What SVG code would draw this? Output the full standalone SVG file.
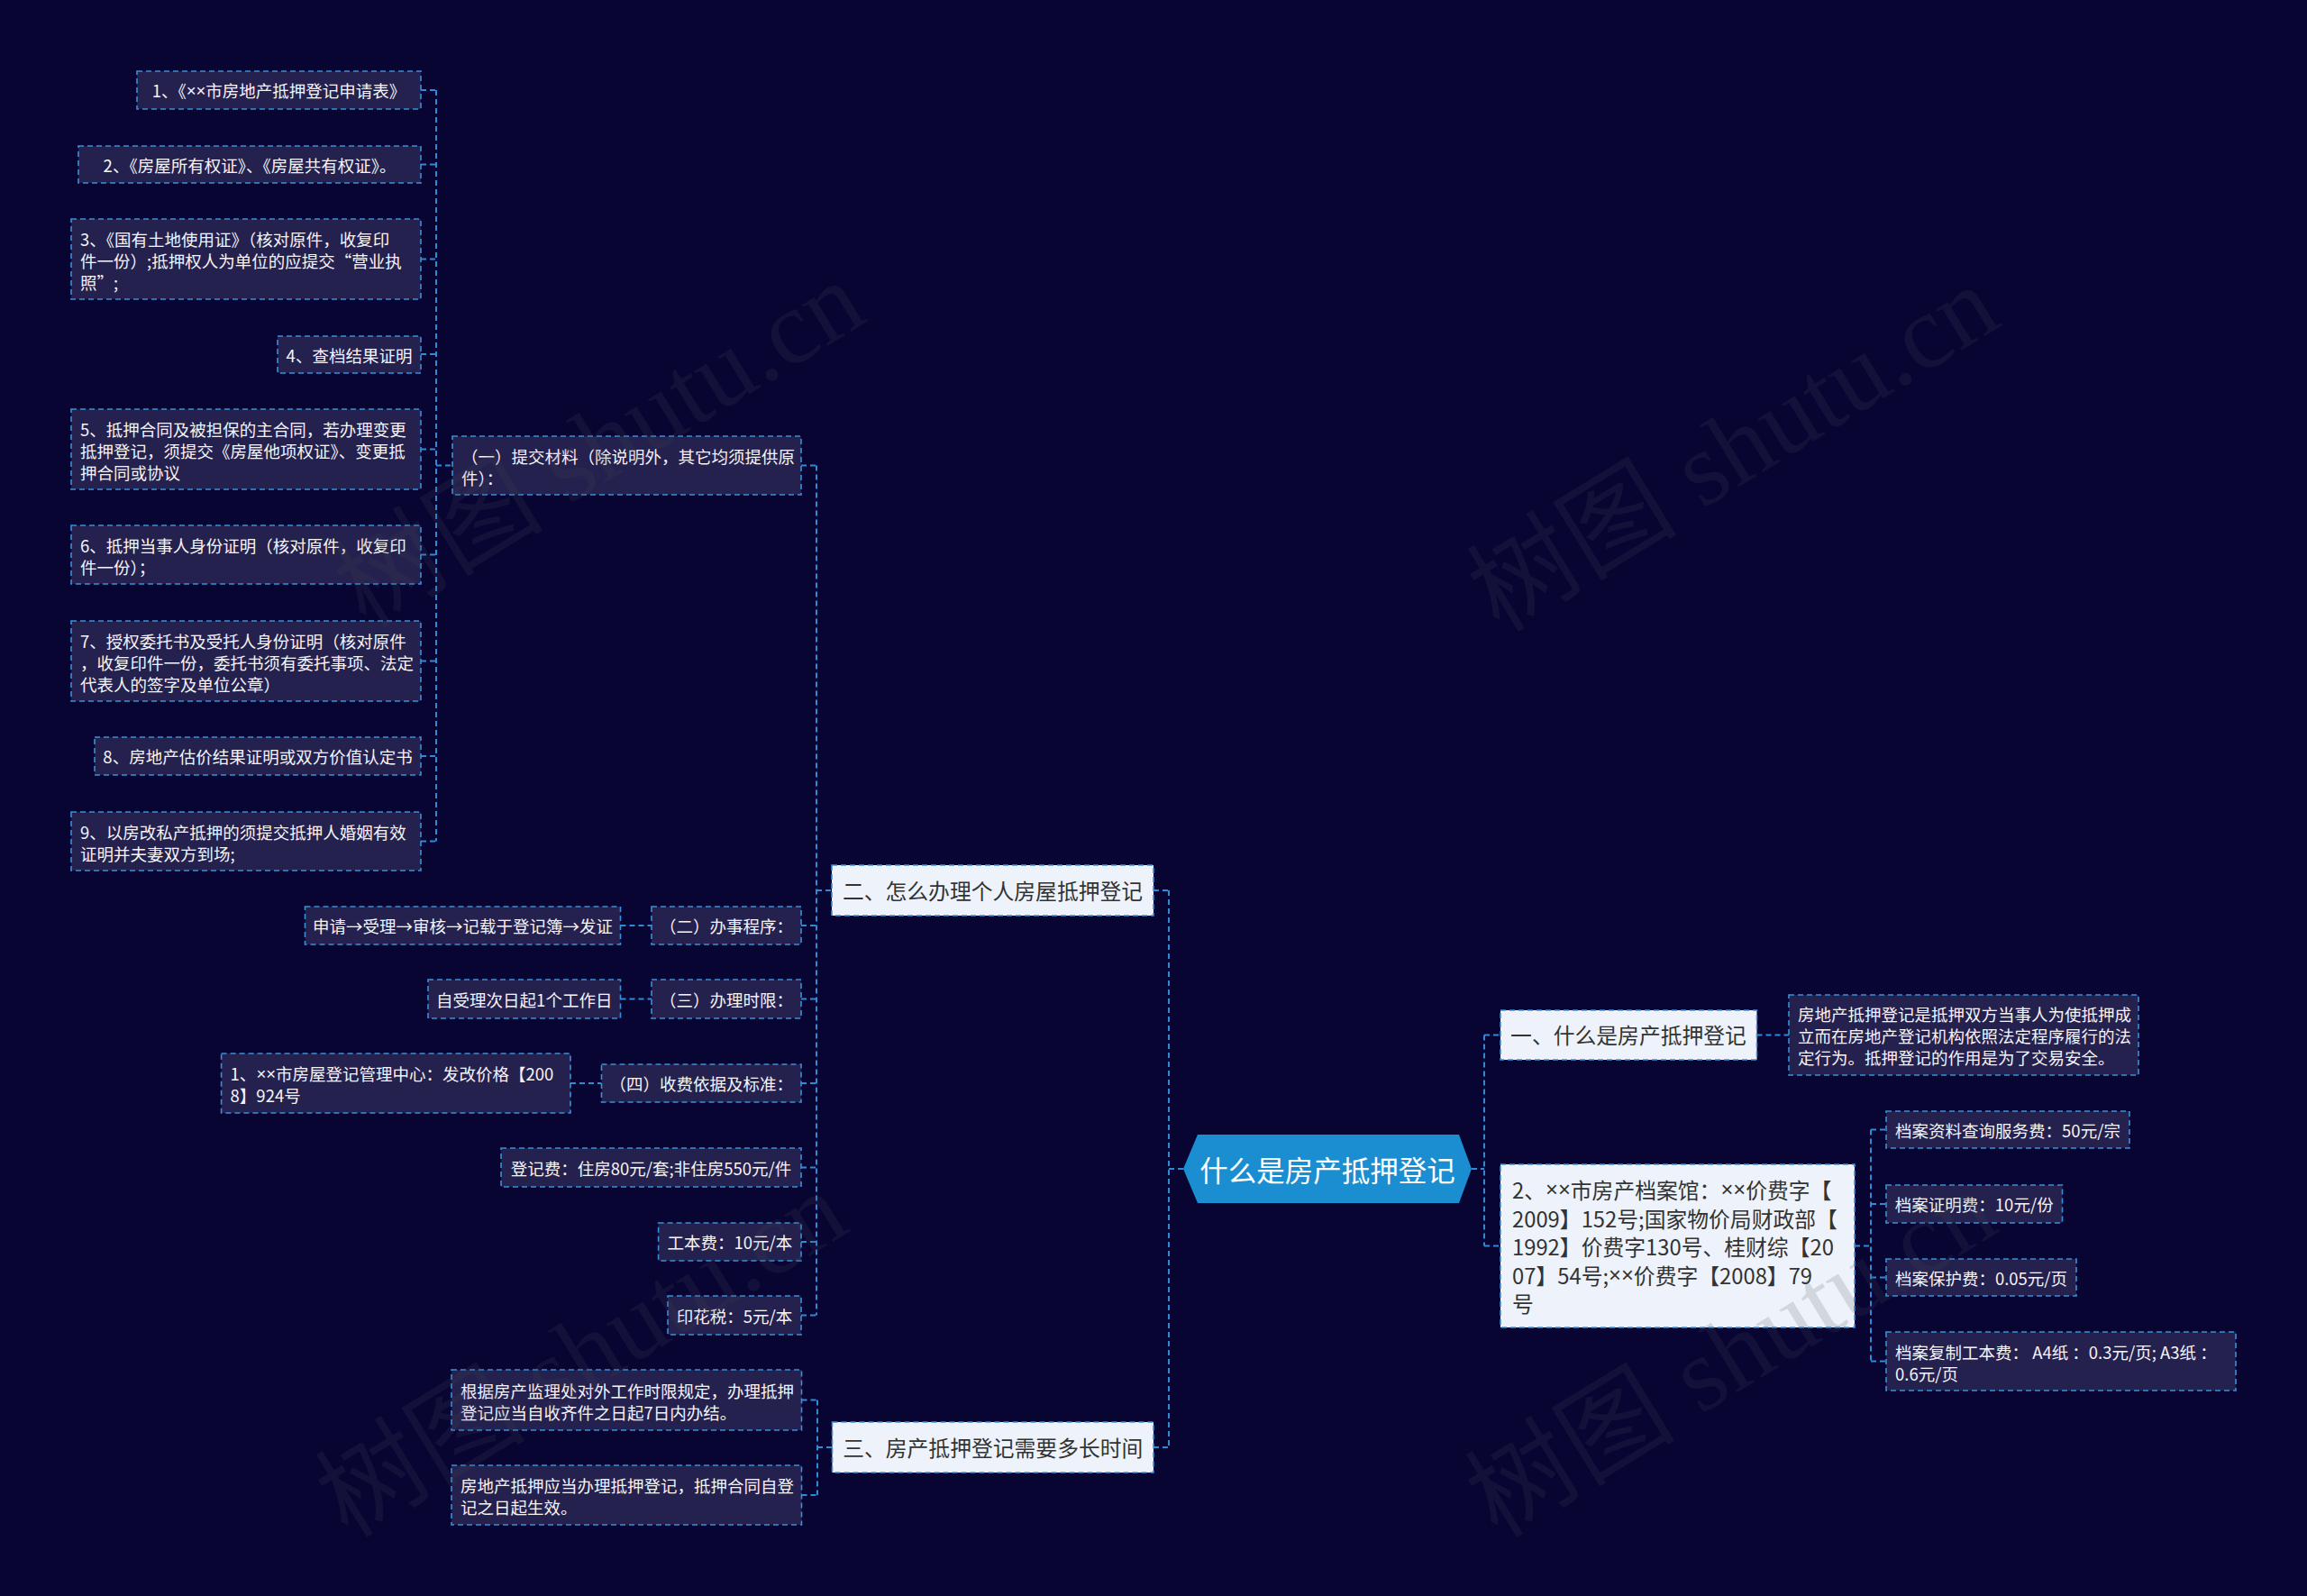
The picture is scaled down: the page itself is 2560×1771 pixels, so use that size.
<svg xmlns="http://www.w3.org/2000/svg" width="2560" height="1771" viewBox="0 0 2560 1771">
<style>
.bg{fill:#090533}
.leaf rect{fill:#25214e;stroke:#3a90d8;stroke-width:1.6;stroke-dasharray:6 4}
.lv1 rect{fill:#eef3fb;stroke:#3a90d8;stroke-width:1.6;stroke-dasharray:6 4}
text{font-family:"Microsoft YaHei","Noto Sans CJK SC","Noto Sans",sans-serif;dominant-baseline:central}
.leaf text{fill:#f4f4f8;font-size:18.5px}
.lv1 text{fill:#333333;font-size:23.8px}
.c{text-anchor:middle}
.x{font-family:"Liberation Sans",sans-serif}
#conns path{fill:none;stroke:#2f8bd8;stroke-width:2;stroke-dasharray:6 4}
.wm{font-family:"Liberation Serif","Noto Sans CJK SC",serif;font-size:117px;fill:#45455a;fill-opacity:0.17;dominant-baseline:auto}
</style>
<rect class="bg" x="0" y="0" width="2560" height="1771"/>

<g id="conns">
<path d="M484,100 V933.5"/>
<path d="M467,100 H484 M467,182.5 H484 M467,287.5 H484 M467,393 H484 M467,498.5 H484 M467,615.5 H484 M467,733.5 H484 M467,839 H484 M467,933.5 H484"/>
<path d="M484,516.5 H502"/>
<path d="M889,516.5 H906"/>
<path d="M906,516.5 V1459.5"/>
<path d="M906,988 H923"/>
<path d="M889,1027 H906 M889,1108.5 H906 M889,1202 H906 M889,1295.5 H906 M889,1378 H906 M889,1459.5 H906"/>
<path d="M688.5,1027 H723 M688.5,1108.5 H723 M633,1202 H667.5"/>
<path d="M1280,988 H1297 M1280,1606 H1297"/>
<path d="M1297,988 V1606"/>
<path d="M1297,1297 H1313"/>
<path d="M889.5,1553.5 H907 M889.5,1659 H907 M907,1606 H923.5"/>
<path d="M907,1553.5 V1659"/>
<path d="M1633,1297 H1647"/>
<path d="M1647,1148.5 V1382.5"/>
<path d="M1647,1148.5 H1665 M1647,1382.5 H1665"/>
<path d="M1949.5,1148.5 H1985"/>
<path d="M2058,1382.5 H2076"/>
<path d="M2076,1253.5 V1510.5"/>
<path d="M2076,1253.5 H2093 M2076,1336 H2093 M2076,1417.5 H2093 M2076,1510.5 H2093"/>
</g>

<g id="root">
<polygon points="1313,1297 1329,1259 1619,1259 1633,1297 1619,1335 1329,1335" fill="#1a8ed1"/>
<text x="1473" y="1297" class="c" fill="#ffffff" font-size="31.5px">什么是房产抵押登记</text>
</g>

<g id="n-yi" class="lv1">
<rect x="1665" y="1121" width="284.5" height="55"/>
<text x="1807" y="1147" class="c">一、什么是房产抵押登记</text>
</g>
<g id="n-yi-def" class="leaf">
<rect x="1985" y="1104" width="388" height="89"/>
<text x="1995"><tspan x="1995" y="1125">房地产抵押登记是抵押双方当事人为使抵押成</tspan><tspan x="1995" y="1149">立而在房地产登记机构依照法定程序履行的法</tspan><tspan x="1995" y="1173">定行为。抵押登记的作用是为了交易安全。</tspan></text>
</g>

<g id="n-archive" class="lv1">
<rect x="1665" y="1292" width="393" height="181"/>
<text x="1678"><tspan x="1678" y="1319">2、<tspan class="x">××</tspan>市房产档案馆：<tspan class="x">××</tspan>价费字【</tspan><tspan x="1678" y="1350.5">2009】152号;国家物价局财政部【</tspan><tspan x="1678" y="1382">1992】价费字130号、桂财综【20</tspan><tspan x="1678" y="1413.5">07】54号;<tspan class="x">××</tspan>价费字【2008】79</tspan><tspan x="1678" y="1445">号</tspan></text>
</g>
<g id="n-f1" class="leaf">
<rect x="2093" y="1233" width="270" height="41"/>
<text x="2228" y="1253.5" class="c">档案资料查询服务费：50元/宗</text>
</g>
<g id="n-f2" class="leaf">
<rect x="2093" y="1315" width="195.5" height="42"/>
<text x="2190.75" y="1336" class="c">档案证明费：10元/份</text>
</g>
<g id="n-f3" class="leaf">
<rect x="2093" y="1397" width="211" height="41"/>
<text x="2198.5" y="1417.5" class="c">档案保护费：0.05元/页</text>
</g>
<g id="n-f4" class="leaf">
<rect x="2093" y="1478" width="388" height="65"/>
<text x="2103"><tspan x="2103" y="1499.5">档案复制工本费： A4纸 ：0.3元/页; A3纸 ：</tspan><tspan x="2103" y="1523.5">0.6元/页</tspan></text>
</g>

<g id="n-er" class="lv1">
<rect x="923" y="960" width="357" height="56"/>
<text x="1101.5" y="987" class="c">二、怎么办理个人房屋抵押登记</text>
</g>
<g id="n-san" class="lv1">
<rect x="923.5" y="1578" width="356.5" height="56"/>
<text x="1101.75" y="1605" class="c">三、房产抵押登记需要多长时间</text>
</g>

<g id="n-s1" class="leaf">
<rect x="501" y="1520" width="388.5" height="67"/>
<text x="511"><tspan x="511" y="1542.5">根据房产监理处对外工作时限规定，办理抵押</tspan><tspan x="511" y="1566.5">登记应当自收齐件之日起7日内办结。</tspan></text>
</g>
<g id="n-s2" class="leaf">
<rect x="501" y="1626" width="388.5" height="66"/>
<text x="511"><tspan x="511" y="1648">房地产抵押应当办理抵押登记，抵押合同自登</tspan><tspan x="511" y="1672">记之日起生效。</tspan></text>
</g>

<g id="n-sub1" class="leaf">
<rect x="502" y="484" width="387" height="65"/>
<text x="512"><tspan x="512" y="505.5">（一）提交材料（除说明外，其它均须提供原</tspan><tspan x="512" y="529.5">件）：</tspan></text>
</g>
<g id="n-m1" class="leaf">
<rect x="152" y="79" width="315" height="42"/>
<text x="309.5" y="100" class="c">1、《<tspan class="x">××</tspan>市房地产抵押登记申请表》</text>
</g>
<g id="n-m2" class="leaf">
<rect x="87" y="162" width="380" height="41"/>
<text x="277" y="182.5" class="c">2、《房屋所有权证》、《房屋共有权证》。</text>
</g>
<g id="n-m3" class="leaf">
<rect x="79" y="243" width="388" height="89"/>
<text x="89"><tspan x="89" y="264.5">3、《国有土地使用证》（核对原件，收复印</tspan><tspan x="89" y="288.5">件一份）;抵押权人为单位的应提交“营业执</tspan><tspan x="89" y="312.5">照”;</tspan></text>
</g>
<g id="n-m4" class="leaf">
<rect x="308" y="373" width="159" height="41"/>
<text x="387.5" y="393.5" class="c">4、查档结果证明</text>
</g>
<g id="n-m5" class="leaf">
<rect x="79" y="454" width="388" height="89"/>
<text x="89"><tspan x="89" y="475.5">5、抵押合同及被担保的主合同，若办理变更</tspan><tspan x="89" y="499.5">抵押登记，须提交《房屋他项权证》、变更抵</tspan><tspan x="89" y="523.5">押合同或协议</tspan></text>
</g>
<g id="n-m6" class="leaf">
<rect x="79" y="583" width="388" height="65"/>
<text x="89"><tspan x="89" y="604.5">6、抵押当事人身份证明（核对原件，收复印</tspan><tspan x="89" y="628.5">件一份）；</tspan></text>
</g>
<g id="n-m7" class="leaf">
<rect x="79" y="689" width="388" height="89"/>
<text x="89"><tspan x="89" y="710.5">7、授权委托书及受托人身份证明（核对原件</tspan><tspan x="89" y="734.5">，收复印件一份，委托书须有委托事项、法定</tspan><tspan x="89" y="758.5">代表人的签字及单位公章）</tspan></text>
</g>
<g id="n-m8" class="leaf">
<rect x="105" y="818" width="362" height="42"/>
<text x="286" y="839" class="c">8、房地产估价结果证明或双方价值认定书</text>
</g>
<g id="n-m9" class="leaf">
<rect x="79" y="901" width="388" height="65"/>
<text x="89"><tspan x="89" y="922.5">9、以房改私产抵押的须提交抵押人婚姻有效</tspan><tspan x="89" y="946.5">证明并夫妻双方到场;</tspan></text>
</g>

<g id="n-sub2" class="leaf">
<rect x="723" y="1006" width="166" height="42"/>
<text x="806" y="1027" class="c">（二）办事程序：</text>
</g>
<g id="n-proc" class="leaf">
<rect x="338.5" y="1006" width="350" height="42"/>
<text x="513.5" y="1027" class="c">申请→受理→审核→记载于登记簿→发证</text>
</g>
<g id="n-sub3" class="leaf">
<rect x="723" y="1087" width="166" height="43"/>
<text x="806" y="1108.5" class="c">（三）办理时限：</text>
</g>
<g id="n-limit" class="leaf">
<rect x="475" y="1087" width="213.5" height="43"/>
<text x="581.75" y="1108.5" class="c">自受理次日起1个工作日</text>
</g>
<g id="n-sub4" class="leaf">
<rect x="667.5" y="1181" width="221.5" height="42"/>
<text x="778.25" y="1202" class="c">（四）收费依据及标准：</text>
</g>
<g id="n-basis" class="leaf">
<rect x="245.6" y="1169" width="387.4" height="66"/>
<text x="255.6"><tspan x="255.6" y="1190.5">1、<tspan class="x">××</tspan>市房屋登记管理中心：发改价格【200</tspan><tspan x="255.6" y="1214.5">8】924号</tspan></text>
</g>
<g id="n-fee1" class="leaf">
<rect x="556" y="1274" width="333" height="43"/>
<text x="722.5" y="1295.5" class="c">登记费：住房80元/套;非住房550元/件</text>
</g>
<g id="n-fee2" class="leaf">
<rect x="730.6" y="1357" width="158.4" height="42"/>
<text x="809.8" y="1378" class="c">工本费：10元/本</text>
</g>
<g id="n-fee3" class="leaf">
<rect x="741" y="1438" width="148" height="43"/>
<text x="815" y="1459.5" class="c">印花税：5元/本</text>
</g>

<g id="watermarks">
<text class="wm" transform="translate(406,698) rotate(-31.5)">树图 shutu.cn</text>
<text class="wm" transform="translate(1664,703) rotate(-31.5)">树图 shutu.cn</text>
<text class="wm" transform="translate(386,1708) rotate(-31.5)">树图 shutu.cn</text>
<text class="wm" transform="translate(1662,1708) rotate(-31.5)">树图 shutu.cn</text>
</g>
</svg>
